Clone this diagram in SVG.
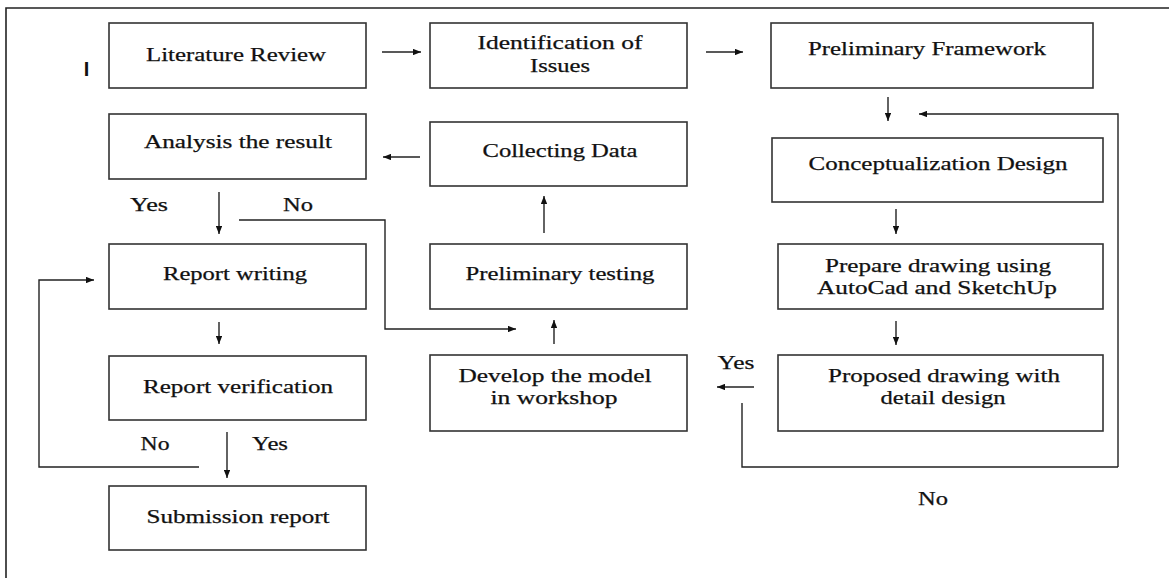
<svg xmlns="http://www.w3.org/2000/svg" width="1169" height="578" viewBox="0 0 1169 578">
<defs>
<marker id="ah" viewBox="0 0 10 8" refX="10" refY="4" markerWidth="8" markerHeight="6.4" markerUnits="userSpaceOnUse" orient="auto">
<path d="M0,0 L10,4 L0,8 Z" fill="#111"/>
</marker>
<style>
.box{fill:#fff;stroke:#333;stroke-width:1.6}
.t{font-family:"Liberation Serif","Times New Roman",serif;font-size:19px;fill:#111;text-anchor:middle;stroke:#111;stroke-width:0.25}
.c{fill:none;stroke:#222;stroke-width:1.4}
.a{fill:none;stroke:#222;stroke-width:1.4;marker-end:url(#ah)}
</style>
</defs>
<rect x="0" y="0" width="1169" height="578" fill="#fff"/>
<g id="frame" fill="none" stroke="#222" stroke-width="1.6">
<path d="M6,578 L6,8 L1169,8"/>
</g>
<text x="86.5" y="76" font-family="Liberation Sans, Arial, sans-serif" font-weight="bold" font-size="20" text-anchor="middle" fill="#111">I</text>

<g id="n-literature"><rect class="box" x="109" y="23" width="257" height="65"/><text class="t" x="236" y="61" textLength="180" lengthAdjust="spacingAndGlyphs">Literature Review</text></g>
<g id="n-identification"><rect class="box" x="430" y="23" width="257" height="65"/><text class="t" x="560" y="49" textLength="165" lengthAdjust="spacingAndGlyphs">Identification of</text><text class="t" x="560" y="72" textLength="60" lengthAdjust="spacingAndGlyphs">Issues</text></g>
<g id="n-framework"><rect class="box" x="771" y="23" width="322" height="65"/><text class="t" x="927" y="55" textLength="238" lengthAdjust="spacingAndGlyphs">Preliminary Framework</text></g>
<g id="n-analysis"><rect class="box" x="109" y="114" width="257" height="65"/><text class="t" x="238" y="148" textLength="188" lengthAdjust="spacingAndGlyphs">Analysis the result</text></g>
<g id="n-collecting"><rect class="box" x="430" y="122" width="257" height="64"/><text class="t" x="560" y="157" textLength="155" lengthAdjust="spacingAndGlyphs">Collecting Data</text></g>
<g id="n-concept"><rect class="box" x="772" y="138" width="331" height="64"/><text class="t" x="938" y="170" textLength="259" lengthAdjust="spacingAndGlyphs">Conceptualization Design</text></g>
<g id="n-report-writing"><rect class="box" x="109" y="244" width="257" height="65"/><text class="t" x="235" y="280" textLength="144" lengthAdjust="spacingAndGlyphs">Report writing</text></g>
<g id="n-prelim-testing"><rect class="box" x="430" y="244" width="257" height="65"/><text class="t" x="560" y="280" textLength="189" lengthAdjust="spacingAndGlyphs">Preliminary testing</text></g>
<g id="n-prepare"><rect class="box" x="778" y="244" width="325" height="65"/><text class="t" x="938" y="272" textLength="226" lengthAdjust="spacingAndGlyphs">Prepare drawing using</text><text class="t" x="937" y="294" textLength="240" lengthAdjust="spacingAndGlyphs">AutoCad and SketchUp</text></g>
<g id="n-develop"><rect class="box" x="430" y="355" width="257" height="76"/><text class="t" x="555" y="382" textLength="193" lengthAdjust="spacingAndGlyphs">Develop the model</text><text class="t" x="554" y="404" textLength="127" lengthAdjust="spacingAndGlyphs">in workshop</text></g>
<g id="n-proposed"><rect class="box" x="778" y="355" width="325" height="76"/><text class="t" x="944" y="382" textLength="232" lengthAdjust="spacingAndGlyphs">Proposed drawing with</text><text class="t" x="943" y="404" textLength="125" lengthAdjust="spacingAndGlyphs">detail design</text></g>
<g id="n-verification"><rect class="box" x="109" y="356" width="257" height="64"/><text class="t" x="238" y="393" textLength="190" lengthAdjust="spacingAndGlyphs">Report verification</text></g>
<g id="n-submission"><rect class="box" x="109" y="486" width="257" height="64"/><text class="t" x="238" y="523" textLength="183" lengthAdjust="spacingAndGlyphs">Submission report</text></g>

<g id="connectors">
<line class="a" x1="382" y1="52" x2="421" y2="52"/>
<line class="a" x1="706" y1="52" x2="743" y2="52"/>
<line class="a" x1="888" y1="97" x2="888" y2="121"/>
<path class="a" d="M1118,467 L1118,114 L919,114"/>
<path class="c" d="M742,403 L742,467 L1118,467"/>
<line class="a" x1="754" y1="387" x2="717" y2="387"/>
<line class="a" x1="896" y1="209" x2="896" y2="234"/>
<line class="a" x1="896" y1="321" x2="896" y2="345"/>
<line class="a" x1="554" y1="344" x2="554" y2="320"/>
<line class="a" x1="544" y1="233" x2="544" y2="196"/>
<line class="a" x1="420" y1="157" x2="383" y2="157"/>
<line class="a" x1="219" y1="192" x2="219" y2="234"/>
<path class="a" d="M239,220 L385,220 L385,329 L516,329"/>
<line class="a" x1="219" y1="322" x2="219" y2="344"/>
<path class="a" d="M199,467 L39,467 L39,280 L94,280"/>
<line class="a" x1="227" y1="432" x2="227" y2="478"/>
</g>
<g id="labels">
<text class="t" x="149" y="211" textLength="38" lengthAdjust="spacingAndGlyphs">Yes</text>
<text class="t" x="298" y="211" textLength="30" lengthAdjust="spacingAndGlyphs">No</text>
<text class="t" x="155" y="450" textLength="29" lengthAdjust="spacingAndGlyphs">No</text>
<text class="t" x="270" y="450" textLength="36" lengthAdjust="spacingAndGlyphs">Yes</text>
<text class="t" x="736" y="369" textLength="37" lengthAdjust="spacingAndGlyphs">Yes</text>
<text class="t" x="933" y="505" textLength="30" lengthAdjust="spacingAndGlyphs">No</text>
</g>
</svg>
